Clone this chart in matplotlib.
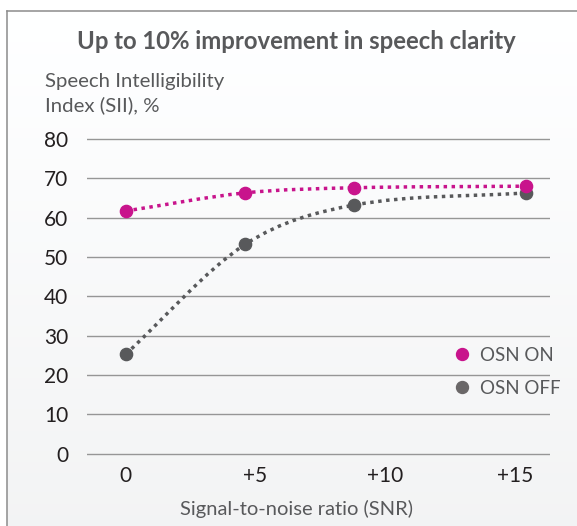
import numpy as np
import matplotlib
matplotlib.use('Agg')
import matplotlib.pyplot as plt
from matplotlib.path import Path
from matplotlib.patches import PathPatch
from matplotlib.lines import Line2D

# data
snr = [0, 4.6, 8.8, 15.4]
osn_on = [61.7, 66.3, 67.6, 68.0]
osn_off = [25.3, 53.2, 63.2, 66.3]
xticks = [0, 5, 10, 15]
xtick_labels = ['0', '+5', '+10', '+15']
yticks = [0, 10, 20, 30, 40, 50, 60, 70, 80]

MAGENTA = '#c8148c'
DARK = '#58595b'
TEXT = '#58595b'

plt.rcParams['font.family'] = ['Lato', 'DejaVu Sans']


def smooth_path(xs, ys):
    # cubic hermite through the points, drawn as bezier segments
    xs = np.asarray(xs, float)
    ys = np.asarray(ys, float)
    n = len(xs)
    m = np.zeros(n)
    m[0] = (ys[1] - ys[0]) / (xs[1] - xs[0])
    m[-1] = (ys[-1] - ys[-2]) / (xs[-1] - xs[-2])
    for i in range(1, n - 1):
        m[i] = (ys[i + 1] - ys[i - 1]) / (xs[i + 1] - xs[i - 1])
    verts = [(xs[0], ys[0])]
    codes = [Path.MOVETO]
    for i in range(n - 1):
        h = xs[i + 1] - xs[i]
        verts += [(xs[i] + h / 3, ys[i] + m[i] * h / 3),
                  (xs[i + 1] - h / 3, ys[i + 1] - m[i + 1] * h / 3),
                  (xs[i + 1], ys[i + 1])]
        codes += [Path.CURVE4] * 3
    return Path(verts, codes)


W, H = 577, 526
fig = plt.figure(figsize=(W / 100, H / 100), dpi=100)

# background panel with soft gradient and left/top border
bg = fig.add_axes([7.3 / W, 0, 1 - 7.3 / W, (H - 11) / H])
grad = np.linspace(1.0, 0.952, 256).reshape(-1, 1)
bg.imshow(np.dstack([grad, grad * 1.003, grad * 1.006]).clip(0, 1),
          aspect='auto', extent=[0, 1, 0, 1])
bg.set_axis_off()
fig.add_artist(Line2D([7.3 / W, 7.3 / W], [0, 1 - 11 / H], color='#8c8c8c', lw=1.1))
fig.add_artist(Line2D([7.3 / W, 1], [1 - 11 / H, 1 - 11 / H], color='#8c8c8c', lw=1.1))

# main axes
ax = fig.add_axes([87 / W, (H - 461.6) / H, (550 - 87) / W, (461.6 - 131.1) / H])
ax.set_facecolor('none')
ax.set_xlim(-1.49, 16.34)
ax.set_ylim(-2, 82)

for spine in ax.spines.values():
    spine.set_visible(False)
ax.set_yticks(yticks)
ax.set_xticks(xticks)
ax.set_xticklabels(xtick_labels)
ax.tick_params(length=0, labelsize=15, labelcolor='#231f20')
ax.tick_params(axis='y', pad=13.5)
ax.tick_params(axis='x', pad=3)
ax.grid(axis='y', color='#969696', lw=1.0)
ax.set_axisbelow(True)

for ys, col in [(osn_off, DARK), (osn_on, MAGENTA)]:
    patch = PathPatch(smooth_path(snr, ys), fill=False, edgecolor=col, lw=2.5,
                      linestyle=(0, (1, 1.3)), capstyle='butt', zorder=3)
    ax.add_patch(patch)
    ax.plot(snr, ys, 'o', color=col, ms=8.8, zorder=4, clip_on=False)

handles = [Line2D([], [], marker='o', ls='none', color=MAGENTA, ms=8.6),
           Line2D([], [], marker='o', ls='none', color='#6a6768', ms=8.6)]
leg = ax.legend(handles, ['OSN ON', 'OSN OFF'], loc='center left',
                bbox_to_anchor=(456.5 / W, 1 - 371.9 / H), bbox_transform=fig.transFigure,
                frameon=False, fontsize=13.5, handlelength=0.6, handletextpad=0.65,
                labelspacing=0.85, borderpad=0, borderaxespad=0)
for t in leg.get_texts():
    t.set_color(TEXT)

# titles
fig.text(296.4 / W, 1 - 49.3 / H, 'Up to 10% improvement in speech clarity',
         ha='center', va='baseline', fontsize=17.2, fontweight='bold', color=TEXT)
fig.text(45 / W, 1 - 87.3 / H, 'Speech Intelligibility', ha='left', va='baseline',
         fontsize=14.7, color=TEXT)
fig.text(45 / W, 1 - 110.7 / H, 'Index (SII), %', ha='left', va='baseline',
         fontsize=14.7, color=TEXT)
fig.text(296 / W, 1 - 515 / H, 'Signal-to-noise ratio (SNR)', ha='center', va='baseline',
         fontsize=14.5, color=TEXT)

fig.savefig('out.png', dpi=100)
